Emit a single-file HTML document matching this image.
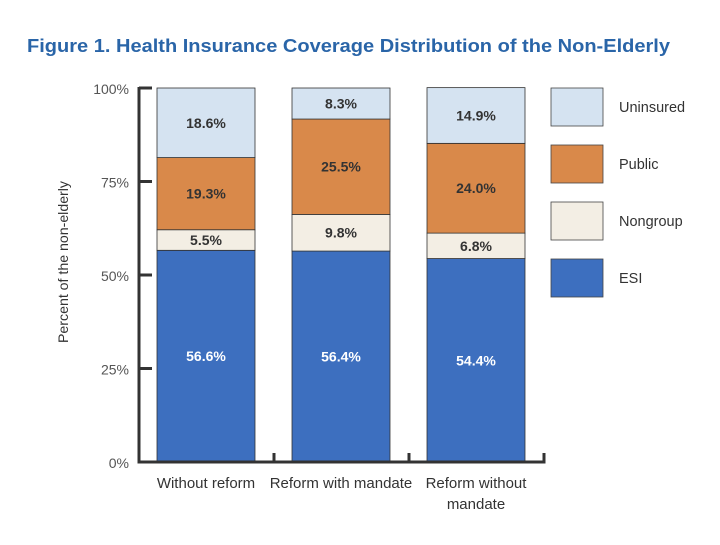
<!DOCTYPE html>
<html><head><meta charset="utf-8"><style>
body{margin:0;background:#fff;width:720px;height:540px;overflow:hidden;font-family:"Liberation Sans",sans-serif}
</style></head><body>
<svg id="chart" width="720" height="540" xmlns="http://www.w3.org/2000/svg" font-family="Liberation Sans, sans-serif">
<text x="27" y="52" font-size="18.5" font-weight="bold" fill="#2a65a8" textLength="643" lengthAdjust="spacingAndGlyphs">Figure 1. Health Insurance Coverage Distribution of the Non-Elderly</text>
<text transform="translate(68,262) rotate(-90)" text-anchor="middle" font-size="14" fill="#333" textLength="162" lengthAdjust="spacingAndGlyphs">Percent of the non-elderly</text>
<g id="plot"></g>
<g id="legend"></g>
</svg>
<script>
const categories = ["Without reform", "Reform with mandate", "Reform without mandate"];
const seriesNames = ["ESI", "Nongroup", "Public", "Uninsured"];
const esi = [56.6, 56.4, 54.4];
const nongroup = [5.5, 9.8, 6.8];
const publicCov = [19.3, 25.5, 24.0];
const uninsured = [18.6, 8.3, 14.9];
const yTicks = [0, 25, 50, 75, 100];
const yTickLabels = ["0%", "25%", "50%", "75%", "100%"];

const NS = "http://www.w3.org/2000/svg";
const colors = ["#3d6fbf", "#f3eee4", "#d9894a", "#d5e3f1"];
const series = [esi, nongroup, publicCov, uninsured];
const y0 = 462, y100 = 88, axX = 139, axRight = 544;
const y = v => y0 - (y0 - y100) * v / 100;
const bandW = (axRight - axX) / categories.length;
const barW = 98;
const xBar = i => axX + 18 + i * bandW;
const plot = document.getElementById('plot');
function mk(tag, attrs, parent) { const e = document.createElementNS(NS, tag); for (const k in attrs) e.setAttribute(k, attrs[k]); parent.appendChild(e); return e; }

categories.forEach((c, i) => {
  let acc = 0;
  series.forEach((s, k) => {
    const v = s[i];
    const r = mk('rect', {x: xBar(i), y: y(acc + v), width: barW, height: y(acc) - y(acc + v), fill: colors[k], stroke: '#333', 'stroke-width': 0.8}, plot);
    
    
    const t = mk('text', {x: xBar(i) + barW / 2, y: (y(acc) + y(acc + v)) / 2 + 5, 'text-anchor': 'middle', 'font-size': 14, 'font-weight': 'bold', fill: k === 0 ? '#fff' : '#333'}, plot);
    t.textContent = v.toFixed(1) + '%';
    
    
    acc += v;
  });
  const lines = c === "Reform without mandate" ? ["Reform without", "mandate"] : [c];
  lines.forEach((ln, j) => {
    const t = mk('text', {x: xBar(i) + barW / 2, y: 488 + j * 21, 'text-anchor': 'middle', 'font-size': 15, fill: '#333'}, plot);
    t.textContent = ln;
    
    
  });
  const tk = mk('line', {x1: axX + (i + 1) * bandW, x2: axX + (i + 1) * bandW, y1: y0, y2: y0 - 9, stroke: '#333', 'stroke-width': 3}, plot);
  
  
});
const ya = mk('line', {x1: axX, x2: axX, y1: y100 - 1, y2: y0 + 1.5, stroke: '#333', 'stroke-width': 3}, plot);


const xa = mk('line', {x1: axX - 1.5, x2: axRight + 1.5, y1: y0, y2: y0, stroke: '#333', 'stroke-width': 3}, plot);


yTicks.forEach((v, i) => {
  if (v > 0) {
    const l = mk('line', {x1: axX, x2: axX + 13, y1: y(v), y2: y(v), stroke: '#333', 'stroke-width': 3}, plot);
    
    
  }
  const t = mk('text', {x: 129, y: y(v) + 6, 'text-anchor': 'end', 'font-size': 14, fill: '#555'}, plot);
  t.textContent = yTickLabels[i];
  
  
});
const leg = document.getElementById('legend');
const legOrder = [3, 2, 1, 0];
legOrder.forEach((k, j) => {
  const top = 88 + j * 57;
  const r = mk('rect', {x: 551, y: top, width: 52, height: 38, fill: colors[k], stroke: '#444', 'stroke-width': 0.8}, leg);
  
  
  const t = mk('text', {x: 619, y: top + 24, 'font-size': 14.5, fill: '#333'}, leg);
  t.textContent = seriesNames[k];
  
  
});
</script>
</body></html>
